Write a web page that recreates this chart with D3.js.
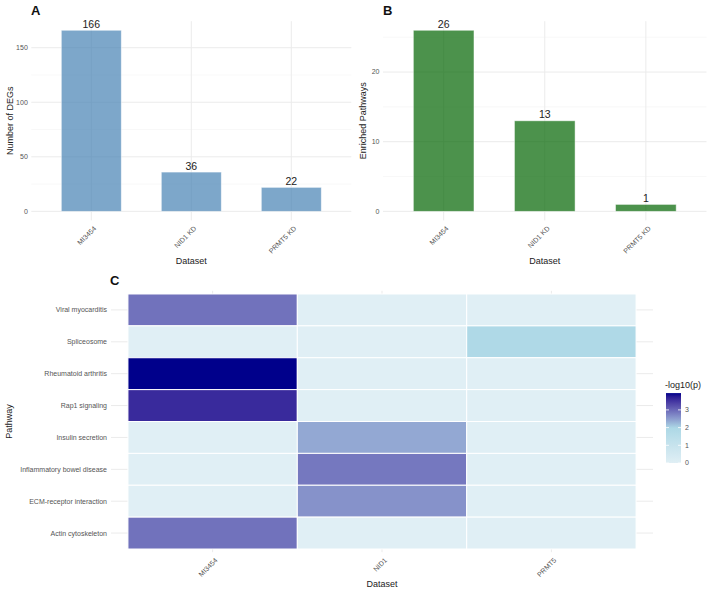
<!DOCTYPE html>
<html>
<head>
<meta charset="utf-8">
<script src="https://cdn.jsdelivr.net/npm/d3@7"></script>
<style>
  html, body { margin: 0; padding: 0; background: #fff; }
  svg { display: block; font-family: "Liberation Sans", Arial, Helvetica, sans-serif; }
</style>
</head>
<body>
<svg id="chart" width="710" height="593"></svg>
<script>
// ---------- DATA ----------
const datasetsAB = ["MI3454", "NID1 KD", "PRMT5 KD"];
const degCounts = [166, 36, 22];
const pathwayCounts = [26, 13, 1];
const degTicks = [0, 50, 100, 150];
const degMinorTicks = [25, 75, 125];
const pathTicks = [0, 10, 20];
const pathMinorTicks = [5, 15, 25];

const heatDatasets = ["MI3454", "NID1", "PRMT5"];
const pathways = ["Viral myocarditis", "Spliceosome", "Rheumatoid arthritis", "Rap1 signaling",
  "Insulin secretion", "Inflammatory bowel disease", "ECM-receptor interaction", "Actin cytoskeleton"];
// -log10(p) per pathway (rows) for MI3454, NID1, PRMT5
const heatMI3454 = [2.9, 0, 3.95, 3.6, 0, 0, 0, 2.9];
const heatNID1   = [0, 0, 0, 0, 2.4, 2.85, 2.6, 0];
const heatPRMT5  = [0, 1.9, 0, 0, 0, 0, 0, 0];
const legendTicks = [0, 1, 2, 3];

// ---------- SETUP ----------
const svg = d3.select("#chart");
const GRID = "#EBEBEB", GRID_MINOR = "#F3F3F3", TICK_TXT = "#555", TITLE_TXT = "#222";

function barPanel(opts) {
  const g = svg.append("g");
  const x = d3.scaleBand().domain(datasetsAB).range([opts.left, opts.right]).paddingInner(0.4).paddingOuter(0.3);
  const maxV = d3.max(opts.values);
  const y = d3.scaleLinear().domain([-0.05 * maxV, maxV * 1.05]).range([opts.bottom, opts.top]);

  // minor grid
  g.selectAll(".ming").data(opts.minor).join("line")
    .attr("x1", opts.left).attr("x2", opts.right)
    .attr("y1", d => y(d)).attr("y2", d => y(d))
    .attr("stroke", GRID_MINOR).attr("stroke-width", 0.6);
  // major grid
  g.selectAll(".majg").data(opts.ticks).join("line")
    .attr("x1", opts.left).attr("x2", opts.right)
    .attr("y1", d => y(d)).attr("y2", d => y(d))
    .attr("stroke", GRID).attr("stroke-width", 1);
  g.selectAll(".vg").data(datasetsAB).join("line")
    .attr("x1", d => x(d) + x.bandwidth() / 2).attr("x2", d => x(d) + x.bandwidth() / 2)
    .attr("y1", opts.top).attr("y2", opts.bottom)
    .attr("stroke", GRID).attr("stroke-width", 1);

  // bars
  g.selectAll(".bar").data(opts.values).join("rect")
    .attr("x", (d, i) => x(datasetsAB[i]))
    .attr("width", x.bandwidth())
    .attr("y", d => y(d))
    .attr("height", d => y(0) - y(d))
    .attr("fill", opts.color).attr("fill-opacity", 0.7)
    .attr("stroke", "#fff").attr("stroke-opacity", 0.6).attr("stroke-width", 0.8);

  // value labels
  g.selectAll(".val").data(opts.values).join("text")
    .attr("x", (d, i) => x(datasetsAB[i]) + x.bandwidth() / 2)
    .attr("y", d => y(d) - 2.5)
    .attr("text-anchor", "middle").attr("font-size", 10.5).attr("fill", "#222")
    .text(d => d);

  // y ticks
  g.selectAll(".yt").data(opts.ticks).join("text")
    .attr("x", opts.left - 3.5).attr("y", d => y(d)).attr("dy", "0.35em")
    .attr("text-anchor", "end").attr("font-size", 7).attr("fill", TICK_TXT)
    .text(d => d);

  // x ticks
  g.selectAll(".xt").data(datasetsAB).join("text")
    .attr("transform", d => `translate(${x(d) + x.bandwidth() / 2 + 2},${opts.bottom + 5}) rotate(-45)`)
    .attr("text-anchor", "end").attr("dy", "0.7em").attr("font-size", 7).attr("fill", TICK_TXT)
    .text(d => d);

  // titles
  g.append("text").attr("x", (opts.left + opts.right) / 2).attr("y", 263.5)
    .attr("text-anchor", "middle").attr("font-size", 9).attr("fill", TITLE_TXT).text("Dataset");
  g.append("text").attr("transform", `translate(${opts.ytitleX},${(opts.top + opts.bottom) / 2}) rotate(-90)`)
    .attr("text-anchor", "middle").attr("font-size", 9).attr("fill", TITLE_TXT).text(opts.ytitle);
  g.append("text").attr("x", opts.labelX).attr("y", 15).attr("font-size", 13).attr("font-weight", "bold")
    .attr("fill", "#111").text(opts.label);
}

barPanel({ left: 31.3, right: 351.3, top: 21.2, bottom: 220.4, values: degCounts, ticks: degTicks,
  minor: degMinorTicks, color: "steelblue", ytitle: "Number of DEGs", ytitleX: 13, label: "A", labelX: 31 });
barPanel({ left: 383, right: 706.5, top: 21.2, bottom: 220.4, values: pathwayCounts, ticks: pathTicks,
  minor: pathMinorTicks, color: "darkgreen", ytitle: "Enriched Pathways", ytitleX: 366, label: "B", labelX: 383 });

// ---------- HEATMAP ----------
const hL = 111, hR = 653, hT = 290.8, hB = 552.2;
const hx = d3.scaleBand().domain(heatDatasets).range([hL, hR]).paddingInner(0).paddingOuter(0.1);
const hy = d3.scaleBand().domain(pathways).range([hT, hB]).paddingInner(0).paddingOuter(0.1);
const cols = [heatMI3454, heatNID1, heatPRMT5];
const cells = [];
cols.forEach((arr, ci) => arr.forEach((v, ri) => cells.push({ ds: heatDatasets[ci], pw: pathways[ri], v })));
const vmax = d3.max(cells, d => d.v);
const color = d3.scaleLinear().domain([0, vmax / 2, vmax])
  .range(["#E0EFF5", "lightblue", "darkblue"]).interpolate(d3.interpolateLab);

const hg = svg.append("g");
hg.selectAll(".hgy").data(pathways).join("line")
  .attr("x1", hL).attr("x2", hR).attr("y1", d => hy(d) + hy.bandwidth() / 2).attr("y2", d => hy(d) + hy.bandwidth() / 2)
  .attr("stroke", GRID).attr("stroke-width", 1);
hg.selectAll(".hgx").data(heatDatasets).join("line")
  .attr("y1", hT).attr("y2", hB).attr("x1", d => hx(d) + hx.bandwidth() / 2).attr("x2", d => hx(d) + hx.bandwidth() / 2)
  .attr("stroke", GRID).attr("stroke-width", 1);
hg.selectAll(".cell").data(cells).join("rect")
  .attr("x", d => hx(d.ds)).attr("y", d => hy(d.pw))
  .attr("width", hx.bandwidth()).attr("height", hy.bandwidth())
  .attr("fill", d => color(d.v)).attr("stroke", "#fff").attr("stroke-width", 1);

hg.selectAll(".hyt").data(pathways).join("text")
  .attr("x", hL - 4).attr("y", d => hy(d) + hy.bandwidth() / 2).attr("dy", "0.35em")
  .attr("text-anchor", "end").attr("font-size", 7).attr("fill", TICK_TXT).text(d => d);
hg.selectAll(".hxt").data(heatDatasets).join("text")
  .attr("transform", d => `translate(${hx(d) + hx.bandwidth() / 2 + 2},${hB + 5}) rotate(-45)`)
  .attr("text-anchor", "end").attr("dy", "0.7em").attr("font-size", 7).attr("fill", TICK_TXT).text(d => d);
hg.append("text").attr("x", (hL + hR) / 2).attr("y", 587).attr("text-anchor", "middle")
  .attr("font-size", 9).attr("fill", TITLE_TXT).text("Dataset");
hg.append("text").attr("transform", `translate(12,${(hT + hB) / 2}) rotate(-90)`)
  .attr("text-anchor", "middle").attr("font-size", 9).attr("fill", TITLE_TXT).text("Pathway");
hg.append("text").attr("x", 110).attr("y", 285).attr("font-size", 13).attr("font-weight", "bold")
  .attr("fill", "#111").text("C");

// ---------- LEGEND ----------
const lx = 666, lw = 15, l0 = 463;
const ly = d3.scaleLinear().domain([0, vmax]).range([l0, l0 - vmax * 17.7]);
const defs = svg.append("defs");
const grad = defs.append("linearGradient").attr("id", "lg").attr("x1", 0).attr("y1", 1).attr("x2", 0).attr("y2", 0);
d3.range(0, 1.0001, 0.05).forEach(t => grad.append("stop").attr("offset", t).attr("stop-color", color(t * vmax)));
svg.append("rect").attr("x", lx).attr("y", ly(vmax)).attr("width", lw).attr("height", ly(0) - ly(vmax))
  .attr("fill", "url(#lg)");
const lt = svg.append("g");
lt.selectAll(".ltl").data(legendTicks).join("line")
  .attr("x1", lx).attr("x2", lx + 3).attr("y1", d => ly(d)).attr("y2", d => ly(d))
  .attr("stroke", "#fff").attr("stroke-width", 0.8);
lt.selectAll(".ltr").data(legendTicks).join("line")
  .attr("x1", lx + lw - 3).attr("x2", lx + lw).attr("y1", d => ly(d)).attr("y2", d => ly(d))
  .attr("stroke", "#fff").attr("stroke-width", 0.8);
lt.selectAll(".ltt").data(legendTicks).join("text")
  .attr("x", lx + lw + 4).attr("y", d => ly(d)).attr("dy", "0.35em")
  .attr("font-size", 7).attr("fill", TICK_TXT).text(d => d);
svg.append("text").attr("x", 665).attr("y", 388).attr("font-size", 9).attr("fill", TITLE_TXT).text("-log10(p)");
</script>
</body>
</html>
